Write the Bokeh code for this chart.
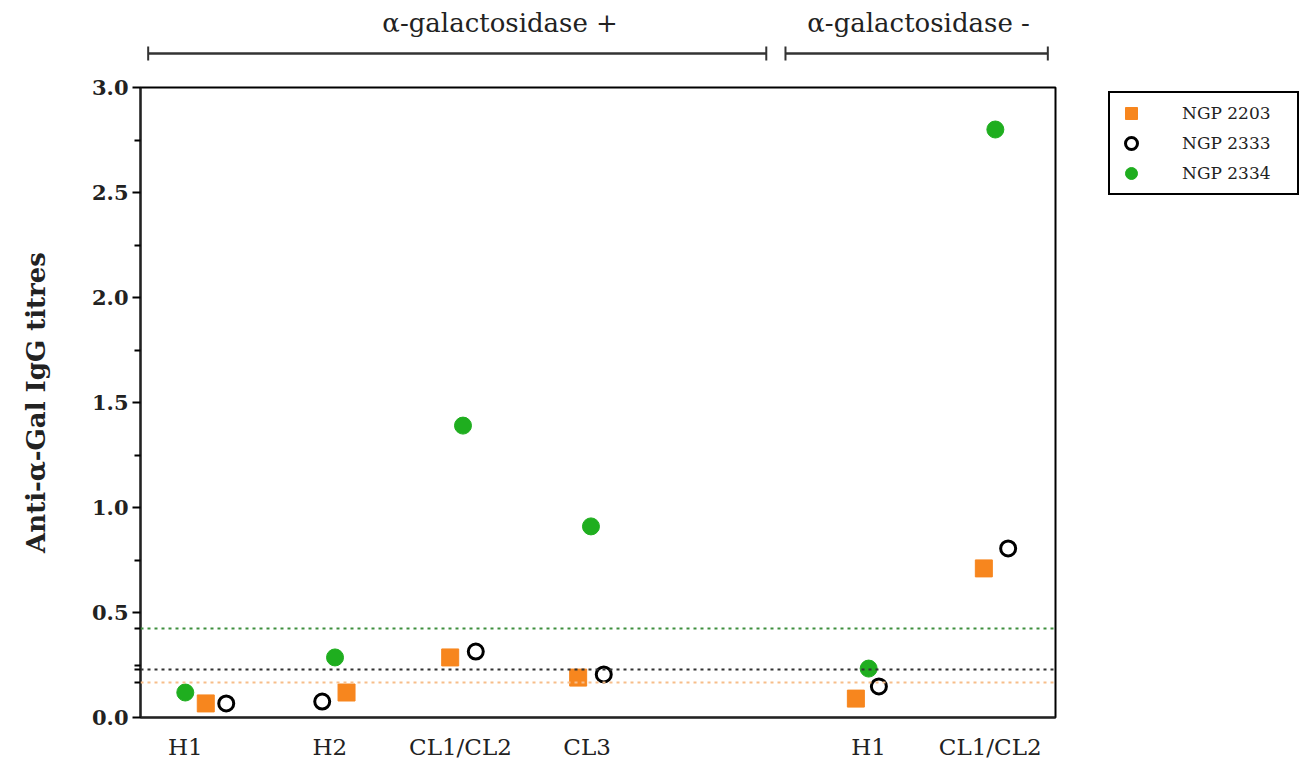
from bokeh.plotting import figure
from bokeh.layouts import column
from bokeh.models import Range1d, FixedTicker, Span, Legend, LegendItem, NumeralTickFormatter
from bokeh.core.properties import value
from bokeh.embed import file_html
from bokeh.resources import INLINE

# ---- data ----
categories = ["H1", "H2", "CL1/CL2", "CL3", "H1", "CL1/CL2"]
cat_pos = [0.35, 1.48, 2.50, 3.49, 5.69, 6.64]

series_names = ["NGP 2203", "NGP 2333", "NGP 2334"]
x_2203 = [0.51, 1.61, 2.42, 3.42, 5.59, 6.59]
y_2203 = [0.067, 0.119, 0.286, 0.19, 0.09, 0.71]
x_2333 = [0.67, 1.42, 2.62, 3.62, 5.77, 6.78]
y_2333 = [0.067, 0.076, 0.314, 0.205, 0.148, 0.805]
x_2334 = [0.35, 1.52, 2.52, 3.52, 5.69, 6.68]
y_2334 = [0.119, 0.286, 1.39, 0.91, 0.233, 2.80]

cutoff_values = [0.167, 0.229, 0.424]          # NGP 2203, NGP 2333, NGP 2334
cutoff_colors = ["#f7be8a", "#333333", "#3f8f3f"]

groups = ["\u03b1-galactosidase +", "\u03b1-galactosidase -"]
group_start = [0.06, 5.04]
group_end = [4.89, 7.09]
group_label_x = [2.81, 6.08]

y_ticks = [0.0, 0.5, 1.0, 1.5, 2.0, 2.5, 3.0]
y_minor = [0.25, 0.75, 1.25, 1.75, 2.25, 2.75]

ORANGE = "#f7861e"
GREEN = "#1fae1f"
SERIF = "DejaVu Serif"

# ---- layout constants ----
W = 1298
LEFT = 140
FRAME_W = 915
RIGHT = W - LEFT - FRAME_W
x_range = Range1d(0, 7.15)

# ---- top bracket figure ----
TOP_H = 72
top = figure(width=W, height=TOP_H, frame_width=FRAME_W, frame_height=TOP_H,
             x_range=x_range, y_range=Range1d(0, TOP_H),
             toolbar_location=None, output_backend="svg",
             min_border_left=LEFT, min_border_right=RIGHT,
             min_border_top=0, min_border_bottom=0)
top.axis.visible = False
top.grid.visible = False
top.outline_line_color = None
top.background_fill_color = None
top.border_fill_color = None

by = TOP_H - 53
top.segment(x0=group_start, y0=[by] * 2, x1=group_end, y1=[by] * 2,
            line_color="#333333", line_width=2.5)
top.segment(x0=group_start + group_end, y0=[by - 7] * 4,
            x1=group_start + group_end, y1=[by + 7] * 4,
            line_color="#333333", line_width=2)
top.text(x=group_label_x, y=[TOP_H - 22] * 2,
         text=groups, text_align="center", text_baseline="middle",
         text_font=value(SERIF), text_font_size="26px", text_color="#222222")

# ---- main figure ----
p = figure(width=W, height=687, frame_width=FRAME_W, frame_height=630,
           x_range=x_range, y_range=Range1d(0, 3.0),
           toolbar_location=None, output_backend="svg",
           min_border_left=LEFT, min_border_right=RIGHT,
           min_border_top=15, min_border_bottom=42)
p.grid.visible = False
p.outline_line_color = "black"
p.outline_line_width = 2
p.background_fill_color = "white"

for v, c in zip(cutoff_values, cutoff_colors):
    p.add_layout(Span(location=v, dimension="width", line_color=c,
                      line_width=2, line_dash="3 4"))

r1 = p.scatter(x_2203, y_2203, marker="square", size=17, fill_color=ORANGE,
               line_color=ORANGE)
r2 = p.scatter(x_2333, y_2333, marker="circle", size=15, fill_color="white",
               line_color="black", line_width=3)
r3 = p.scatter(x_2334, y_2334, marker="circle", size=17, fill_color=GREEN,
               line_color=GREEN)

# y axis
yax = p.yaxis[0]
yax.ticker = FixedTicker(ticks=y_ticks, minor_ticks=y_minor + cutoff_values)
yax.formatter = NumeralTickFormatter(format="0.0")
yax.axis_line_width = 2
yax.axis_line_color = "#222222"
yax.major_tick_line_width = 2
yax.major_tick_out = 8
yax.major_tick_in = 0
yax.minor_tick_line_width = 2
yax.minor_tick_out = 6
yax.minor_tick_in = 0
yax.major_label_text_font = SERIF
yax.major_label_text_font_style = "bold"
yax.major_label_text_font_size = "21px"
yax.major_label_text_color = "#222222"
yax.major_label_standoff = 4
yax.axis_label = "Anti-\u03b1-Gal IgG titres"
yax.axis_label_text_font = SERIF
yax.axis_label_text_font_style = "bold"
yax.axis_label_text_font_size = "26px"
yax.axis_label_text_color = "#222222"
yax.axis_label_standoff = 38

# x axis
xax = p.xaxis[0]
xax.ticker = FixedTicker(ticks=cat_pos)
xax.major_label_overrides = {pos: lab for pos, lab in zip(cat_pos, categories)}
xax.axis_line_width = 2
xax.axis_line_color = "#222222"
xax.major_tick_line_color = None
xax.minor_tick_line_color = None
xax.major_label_text_font = SERIF
xax.major_label_text_font_size = "23px"
xax.major_label_text_color = "#222222"
xax.major_label_standoff = 10

legend = Legend(items=[LegendItem(label=n, renderers=[r]) for n, r in
                       zip(series_names, [r1, r2, r3])],
                location=(53, 522), orientation="vertical")
legend.border_line_color = "black"
legend.border_line_alpha = 1.0
legend.border_line_width = 2.5
legend.padding = 5
legend.spacing = 0
legend.glyph_width = 32
legend.glyph_height = 30
legend.label_standoff = 35
legend.label_width = 110
legend.label_text_font = SERIF
legend.label_text_font_size = "17px"
legend.label_text_color = "#222222"
legend.background_fill_color = "white"
legend.margin = 0
p.add_layout(legend, "right")

layout = column(top, p, spacing=0)
open("out.html", "w").write(file_html(layout, INLINE))
